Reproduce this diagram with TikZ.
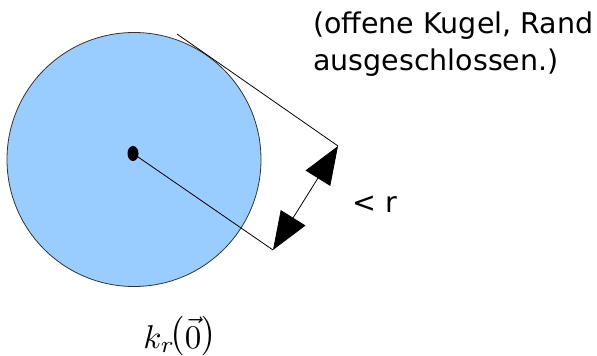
\documentclass[tikz,border=0pt]{standalone}
\usepackage{fontspec}
\usepackage{amsmath}
\usepackage{tikz}
\usetikzlibrary{arrows.meta,calc}
\newfontfamily\beschriftung{DejaVu Sans}
\definecolor{kugelblau}{RGB}{153,204,255}
\tikzset{
    linie/.style={black,line width=0.8pt},
    doppelpfeil/.style={{Triangle[length=38pt,width=29pt]}-{Triangle[length=38pt,width=29pt]}},
    schrift/.style={font=\fontsize{28.5}{37}\selectfont\beschriftung}
}

\begin{document}
\begin{tikzpicture}[x=1pt,y=-1pt]
    \useasboundingbox (0,0) rectangle (597,356);
        \coordinate (M) at (134,159.5);
        \coordinate (P) at (133,153.5);
        \coordinate (E) at (273,250);
        \coordinate (S) at (338,146);
        \coordinate (T) at (177,34);

        \fill[kugelblau] (M) circle (127);
        \draw[black!80,line width=0.8pt] (M) circle (127);

        \draw[linie] (P) -- (E);
        \draw[linie] (T) -- (S);
        \draw[linie,doppelpfeil] (E) -- (S);
        \fill (P) ellipse (5.5 and 7.5);

        \node[schrift,anchor=base west,inner sep=0pt] (Z1) at (313,33) {(offene Kugel, Rand};
        \node[schrift,anchor=base west,inner sep=0pt] (Z2) at (313,70) {ausgeschlossen.)};
        \node[schrift,anchor=base west,inner sep=0pt] (R) at (352,212) {< r};
        \node[anchor=base,inner sep=0pt] (K) at (180,348) {\scalebox{3.3}{$k_r\!\raisebox{1.2pt}{$\bigl($}\vec{0}\raisebox{1.2pt}{$\bigr)$}$}};
    \end{tikzpicture}
\end{document}
